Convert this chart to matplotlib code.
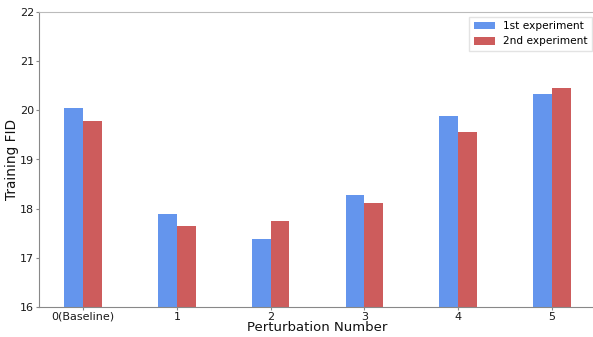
import matplotlib
matplotlib.use("Agg")
import matplotlib.pyplot as plt
import numpy as np

categories = ["0(Baseline)", "1", "2", "3", "4", "5"]
exp1 = [20.04, 17.90, 17.38, 18.28, 19.89, 20.34]
exp2 = [19.79, 17.64, 17.74, 18.12, 19.56, 20.45]
labels = ["1st experiment", "2nd experiment"]

fig = plt.figure(figsize=(5.93, 3.37), dpi=100)
W, H = 593, 337
left, right, top, bottom = 39, 596, 12, 307
ax = fig.add_axes([left / W, 1 - bottom / H, (right - left) / W, (bottom - top) / H])

x = np.arange(len(categories))
w = 0.2
ax.bar(x - w / 2, exp1, w, color="cornflowerblue", label=labels[0])
ax.bar(x + w / 2, exp2, w, color="indianred", label=labels[1])

ax.set_ylim(16, 22)
ax.set_xlim(-0.47, 5.47)
ax.set_xticks(x)
ax.set_xticklabels(categories)
ax.set_yticks(range(16, 23))
ax.tick_params(axis="both", labelsize=8, length=2, width=0.8, pad=1.5,
               colors="#888888", labelcolor="#1a1a1a")
ax.set_xlabel("Perturbation Number", fontsize=9.5, labelpad=-0.5, color="#111111")
ax.set_ylabel("Training FID", fontsize=9.8, labelpad=0.5, color="#111111")
ax.spines["left"].set_color("#888888")
ax.spines["bottom"].set_color("#888888")
ax.spines["top"].set_color("#bbbbbb")
ax.spines["right"].set_visible(False)
leg = ax.legend(loc="upper right", fontsize=7.6, bbox_to_anchor=(592 / W, 1 - 17 / H),
                bbox_transform=fig.transFigure, borderaxespad=0, fancybox=False)
leg.get_frame().set_edgecolor("#dddddd")

fig.savefig("out.png", dpi=100)
